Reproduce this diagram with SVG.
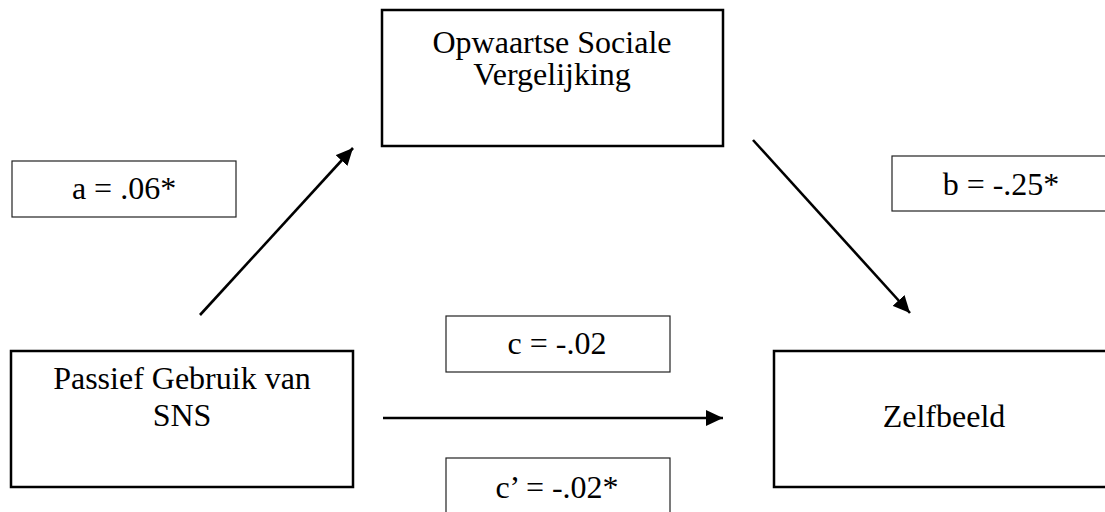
<svg xmlns="http://www.w3.org/2000/svg" width="1105" height="512" viewBox="0 0 1105 512">
<style>
.node{fill:#fff;stroke:#000;stroke-width:2.5}
.lbl{fill:#fff;stroke:#222;stroke-width:1.2}
.t{font-family:'Liberation Serif','Times New Roman',Tinos,'DejaVu Serif',serif;font-size:32px;fill:#000;text-anchor:middle}
.arr{stroke:#000;stroke-width:2.6;fill:none;marker-end:url(#ah)}
</style>
<defs>
<marker id="ah" markerUnits="userSpaceOnUse" markerWidth="18" markerHeight="16" refX="17" refY="8" orient="auto">
<path d="M0,0 L17,8 L0,16 z" fill="#000"/>
</marker>
</defs>
<rect width="1105" height="512" fill="#fff"/>
<g id="connectors">
<line class="arr" x1="200" y1="315" x2="353" y2="148"/>
<line class="arr" x1="753" y1="140" x2="910" y2="313"/>
<line class="arr" x1="383" y1="418" x2="723" y2="418"/>
</g>
<g id="node-vergelijking">
<rect class="node" x="382" y="10" width="341" height="136"/>
<text class="t" font-family="Liberation Serif, serif" x="552" y="53">Opwaartse Sociale</text>
<text class="t" font-family="Liberation Serif, serif" x="552" y="85">Vergelijking</text>
</g>
<g id="node-passief">
<rect class="node" x="11" y="351" width="342" height="136"/>
<text class="t" font-family="Liberation Serif, serif" x="182" y="389">Passief Gebruik van</text>
<text class="t" font-family="Liberation Serif, serif" x="182" y="426">SNS</text>
</g>
<g id="node-zelfbeeld">
<rect class="node" x="774" y="351" width="345" height="136"/>
<text class="t" font-family="Liberation Serif, serif" x="944" y="427">Zelfbeeld</text>
</g>
<g id="label-a">
<rect class="lbl" x="12" y="161" width="224" height="56"/>
<text class="t" font-family="Liberation Serif, serif" x="124" y="199">a = .06*</text>
</g>
<g id="label-b">
<rect class="lbl" x="892" y="156" width="230" height="55"/>
<text class="t" font-family="Liberation Serif, serif" x="1001" y="195">b = -.25*</text>
</g>
<g id="label-c">
<rect class="lbl" x="446" y="316" width="224" height="56"/>
<text class="t" font-family="Liberation Serif, serif" x="557" y="354">c = -.02</text>
</g>
<g id="label-cprime">
<rect class="lbl" x="446" y="458" width="224" height="70"/>
<text class="t" font-family="Liberation Serif, serif" x="557" y="498">c’ = -.02*</text>
</g>
</svg>
